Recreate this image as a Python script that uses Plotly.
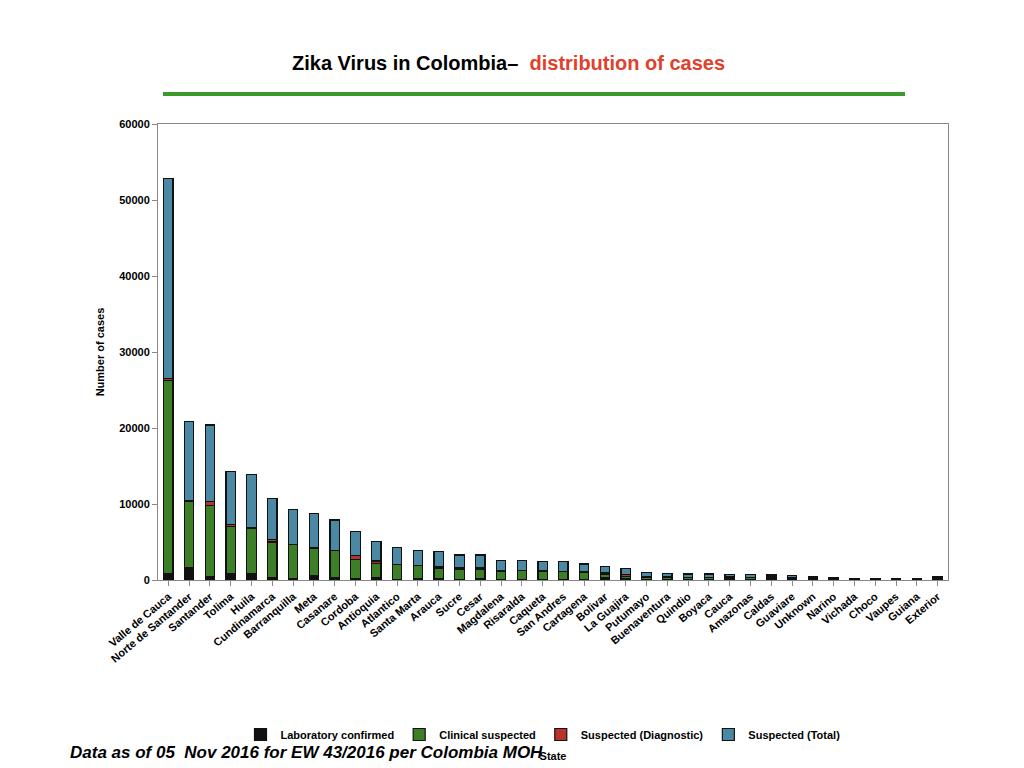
import plotly.graph_objects as go

states = ["Valle de Cauca", "Norte de Santander", "Santander", "Tolima", "Huila",
          "Cundinamarca", "Barranquilla", "Meta", "Casanare", "Cordoba", "Antioquia",
          "Atlantico", "Santa Marta", "Arauca", "Sucre", "Cesar", "Magdalena",
          "Risaralda", "Caqueta", "San Andres", "Cartagena", "Bolivar", "La Guajira",
          "Putumayo", "Buenaventura", "Quindio", "Boyaca", "Cauca", "Amazonas",
          "Caldas", "Guaviare", "Unknown", "Narino", "Vichada", "Choco", "Vaupes",
          "Guiana", "Exterior"]

lab_confirmed = [900, 1600, 500, 900, 900, 300, 200, 600, 300, 200, 300, 50, 200, 200,
                 100, 150, 100, 100, 100, 100, 100, 300, 200, 50, 50, 50, 50, 300, 50,
                 300, 300, 350, 250, 200, 200, 100, 100, 350]
clinical = [25300, 8800, 9300, 6100, 5850, 4700, 4450, 3500, 3550, 2500, 1850, 1950,
            1700, 1300, 1350, 1300, 1050, 1100, 1000, 1000, 900, 500, 300, 350, 350,
            250, 250, 50, 250, 50, 50, 0, 0, 0, 0, 0, 0, 0]
diagnostic = [300, 100, 500, 300, 150, 300, 50, 200, 50, 500, 350, 50, 50, 200, 150,
              200, 150, 50, 150, 50, 50, 150, 200, 50, 0, 0, 0, 50, 0, 50, 0, 0, 0,
              0, 0, 0, 0, 0]
suspected_total = [26300, 10400, 10100, 7000, 7000, 5400, 4600, 4400, 4000, 3200,
                   2600, 2250, 1950, 2100, 1700, 1650, 1300, 1350, 1150, 1250, 1050,
                   850, 800, 550, 500, 500, 500, 300, 400, 250, 200, 50, 50, 50, 50,
                   50, 50, 50]
y_ticks = [0, 10000, 20000, 30000, 40000, 50000, 60000]

series = [
    ("Laboratory confirmed", lab_confirmed, "#111111"),
    ("Clinical suspected", clinical, "#3c7f26"),
    ("Suspected (Diagnostic)", diagnostic, "#b8332b"),
    ("Suspected (Total)", suspected_total, "#4a88a3"),
]

fig = go.Figure()
for name, vals, color in series:
    fig.add_trace(go.Bar(
        x=states, y=vals, name=f"<b>{name}</b>",
        marker=dict(color=color, line=dict(color="#111111", width=1.2)),
    ))

font = "Liberation Sans, Arial, sans-serif"
W, H = 790, 456  # plot area in px
fig.update_layout(
    barmode="stack",
    bargap=0.55,
    width=1024, height=768,
    paper_bgcolor="white", plot_bgcolor="white",
    margin=dict(l=150, r=84, t=116, b=196),
    font=dict(family=font, size=11, color="black"),
    legend=dict(orientation="h", x=(535 - 150) / W, xanchor="center",
                y=(572 - 712) / H, yanchor="top",
                font=dict(size=11), traceorder="normal"),
    xaxis=dict(tickangle=-40, showline=True, linecolor="#888888", ticks="outside",
               tickcolor="#888888", ticklen=5, mirror=True, automargin=False,
               tickvals=states, ticktext=[f"<b>{s}</b>" for s in states],
               title=dict(text="<b>State</b>", font=dict(size=11), standoff=88)),
    yaxis=dict(range=[0, 60000], showgrid=False, showline=True, automargin=False,
               linecolor="#888888", ticks="outside", tickcolor="#888888", mirror=True,
               tickvals=y_ticks, ticktext=[f"<b>{v}</b>" for v in y_ticks],
               title=dict(text="<b>Number of cases</b>", font=dict(size=11), standoff=12)),
    annotations=[
        dict(text="<b>Zika Virus in Colombia–  <span style='color:#e0402c'>distribution of cases</span></b>",
             x=(500 - 150) / W, y=1 + (116 - 55) / H, xref="paper", yref="paper",
             yanchor="middle", showarrow=False, font=dict(size=20, family=font)),
        dict(text="<b><i>Data as of 05  Nov 2016 for EW 43/2016 per Colombia MOH</i></b>",
             x=(60 - 150) / W, y=(572 - 744) / H, xref="paper", yref="paper",
             xanchor="left", yanchor="middle",
             showarrow=False, font=dict(size=17, family=font)),
    ],
    shapes=[dict(type="line", xref="paper", yref="paper",
                 x0=(155 - 150) / W, x1=(897 - 150) / W,
                 y0=1 + 30 / H, y1=1 + 30 / H, line=dict(color="#3a9a2a", width=4))],
)

fig.write_html("out.html")
